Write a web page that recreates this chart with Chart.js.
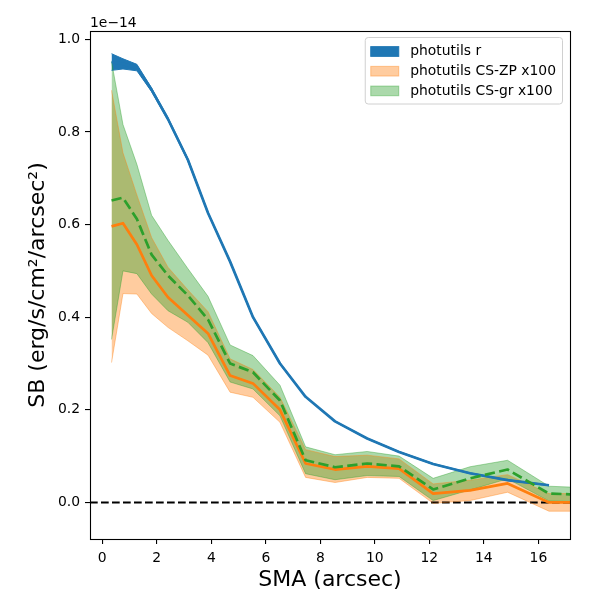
<!DOCTYPE html>
<html>
<head>
<meta charset="utf-8">
<script src="https://cdn.jsdelivr.net/npm/chart.js@4.4.0/dist/chart.umd.min.js"></script>
<style>
  html, body { margin: 0; padding: 0; background: #fff; }
  canvas { display: block; }
</style>
</head>
<body>
<canvas id="chart" width="600" height="600"></canvas>
<script>
// semi-major axis (arcsec); the last point only exists for the CS profiles
const sma = [0.34, 0.76, 1.27, 1.81, 2.41, 3.14, 3.88, 4.69, 5.53, 6.52, 7.46, 8.54, 9.72, 10.89, 12.14, 13.49, 14.87, 16.39, 18.0];

// surface brightness, units of 1e-14
const profR = [0.951, 0.947, 0.939, 0.891, 0.828, 0.74, 0.625, 0.52, 0.40, 0.30, 0.228, 0.175, 0.138, 0.109, 0.083, 0.063, 0.048, 0.037];
const errR = [0.018, 0.011, 0.007, 0.004, 0.003, 0.003, 0.002, 0.002, 0.002, 0.002, 0.001, 0.001, 0.001, 0.001, 0.001, 0.001, 0.001, 0.001];

const profZP = [0.596, 0.603, 0.557, 0.49, 0.443, 0.404, 0.365, 0.274, 0.257, 0.20, 0.084, 0.071, 0.078, 0.073, 0.019, 0.026, 0.041, 0.0, 0.0];
const errZP = [0.294, 0.152, 0.107, 0.082, 0.065, 0.055, 0.047, 0.036, 0.03, 0.027, 0.030, 0.028, 0.024, 0.021, 0.021, 0.022, 0.019, 0.019, 0.019];

const profGR = [0.652, 0.658, 0.612, 0.535, 0.49, 0.447, 0.395, 0.30, 0.281, 0.22, 0.091, 0.076, 0.084, 0.078, 0.028, 0.052, 0.071, 0.019, 0.016];
const errGR = [0.30, 0.158, 0.118, 0.085, 0.076, 0.058, 0.05, 0.04, 0.036, 0.033, 0.029, 0.027, 0.026, 0.022, 0.024, 0.025, 0.02, 0.016, 0.015];

const xTicks = [0, 2, 4, 6, 8, 10, 12, 14, 16];
const yTicks = [0.0, 0.2, 0.4, 0.6, 0.8, 1.0];
const legendLabels = ['photutils r', 'photutils CS-ZP x100', 'photutils CS-gr x100'];

const FONT = 'DejaVu Sans';
const BLUE = '#1f77b4', ORANGE = '#ff7f0e', GREEN = '#2ca02c';
const ORANGE_A = 'rgba(255,127,14,0.4)', GREEN_A = 'rgba(44,160,44,0.4)';

const pts = (vals, errs, s) => vals.map((v, i) => ({ x: sma[i], y: errs ? v + s * errs[i] : v }));

const edge = (data, color, order, fill) => ({
  data, borderColor: color, backgroundColor: color, borderWidth: 1,
  pointRadius: 0, fill, order, borderJoinStyle: 'round'
});
const line = (data, color, order, dash) => ({
  data, borderColor: color, borderWidth: 2.7, pointRadius: 0, fill: false,
  order, borderDash: dash || [], borderJoinStyle: 'round'
});

const zeroLine = {
  id: 'zeroLine',
  beforeDatasetsDraw(chart) {
    const { ctx, chartArea: a, scales } = chart;
    const y = scales.y.getPixelForValue(0);
    ctx.save();
    ctx.strokeStyle = '#000';
    ctx.lineWidth = 2;
    ctx.setLineDash([7.7, 3.3]);
    ctx.beginPath();
    ctx.moveTo(a.left, y);
    ctx.lineTo(a.right, y);
    ctx.stroke();
    ctx.restore();
  }
};

const frame = {
  id: 'frame',
  afterDatasetsDraw(chart) {
    const { ctx, chartArea: a } = chart;
    ctx.save();
    ctx.strokeStyle = '#000';
    ctx.lineWidth = 1.1;
    ctx.strokeRect(Math.round(a.left) + 0.5, Math.round(a.top) + 0.5,
      Math.round(a.right - a.left), Math.round(a.bottom - a.top));
    ctx.restore();
  }
};

const legendBox = {
  id: 'legendBox',
  afterDraw(chart) {
    const { ctx, chartArea: a } = chart;
    const fills = [BLUE, ORANGE_A, GREEN_A];
    ctx.save();
    ctx.font = '13.9px "' + FONT + '"';
    const tw = Math.max(...legendLabels.map(t => ctx.measureText(t).width));
    const w = 5.5 + 28 + 11.5 + tw + 6.5;
    const h = 66.5;
    const x = a.right - 7.5 - w, y = a.top + 6.5;
    ctx.beginPath();
    ctx.roundRect(x, y, w, h, 3);
    ctx.fillStyle = 'rgba(255,255,255,0.8)';
    ctx.fill();
    ctx.strokeStyle = '#d0d0d0';
    ctx.lineWidth = 1;
    ctx.stroke();
    legendLabels.forEach((t, i) => {
      const cy = y + 14 + i * 19.7;
      ctx.fillStyle = fills[i];
      ctx.fillRect(x + 5.5, cy - 4.85, 28, 9.7);
      ctx.strokeStyle = fills[i];
      ctx.strokeRect(x + 5.5, cy - 4.85, 28, 9.7);
      ctx.fillStyle = '#000';
      ctx.textBaseline = 'middle';
      ctx.fillText(t, x + 45, cy);
    });
    // offset text of the y axis
    ctx.textBaseline = 'alphabetic';
    ctx.fillText('1e\u221214', a.left, a.top - 4.5);
    ctx.restore();
  }
};

new Chart(document.getElementById('chart'), {
  type: 'line',
  data: {
    datasets: [
      edge(pts(profR, errR, -1), BLUE, 40, false),
      edge(pts(profR, errR, 1), BLUE, 40, '-1'),
      edge(pts(profZP, errZP, -1), ORANGE_A, 30, false),
      edge(pts(profZP, errZP, 1), ORANGE_A, 30, '-1'),
      edge(pts(profGR, errGR, -1), GREEN_A, 20, false),
      edge(pts(profGR, errGR, 1), GREEN_A, 20, '-1'),
      line(pts(profR), BLUE, 3),
      line(pts(profZP), ORANGE, 2),
      line(pts(profGR), GREEN, 1, [10.3, 4.4])
    ]
  },
  options: {
    responsive: false,
    animation: false,
    layout: { padding: { top: 31, right: 30, left: 0, bottom: 0 } },
    plugins: {
      legend: { display: false },
      tooltip: { enabled: false },
      filler: { drawTime: 'beforeDatasetsDraw' }
    },
    scales: {
      x: {
        type: 'linear', min: -0.45, max: 17.16,
        afterBuildTicks: s => { s.ticks = xTicks.map(v => ({ value: v })); },
        afterFit: s => { s.height = 61; },
        grid: { drawOnChartArea: false, color: '#000', tickLength: 5, lineWidth: 1.1 },
        border: { display: false },
        ticks: { color: '#000', font: { family: FONT, size: 13.9 }, padding: 6, maxRotation: 0, autoSkip: false,
          callback: v => String(v) },
        title: { display: true, text: 'SMA (arcsec)', color: '#000', font: { family: FONT, size: 22 },
          padding: { top: 0, bottom: 7 } }
      },
      y: {
        type: 'linear', min: -0.079, max: 1.018,
        afterBuildTicks: s => { s.ticks = yTicks.map(v => ({ value: v })); },
        afterFit: s => { s.width = 90; },
        grid: { drawOnChartArea: false, color: '#000', tickLength: 5, lineWidth: 1.1 },
        border: { display: false },
        ticks: { color: '#000', font: { family: FONT, size: 13.9 }, padding: 5, autoSkip: false,
          callback: v => v.toFixed(1) },
        title: { display: true, text: 'SB (erg/s/cm\u00b2/arcsec\u00b2)', color: '#000', font: { family: FONT, size: 22 },
          padding: { top: 25, bottom: 0 } }
      }
    }
  },
  plugins: [zeroLine, frame, legendBox]
});
</script>
</body>
</html>
